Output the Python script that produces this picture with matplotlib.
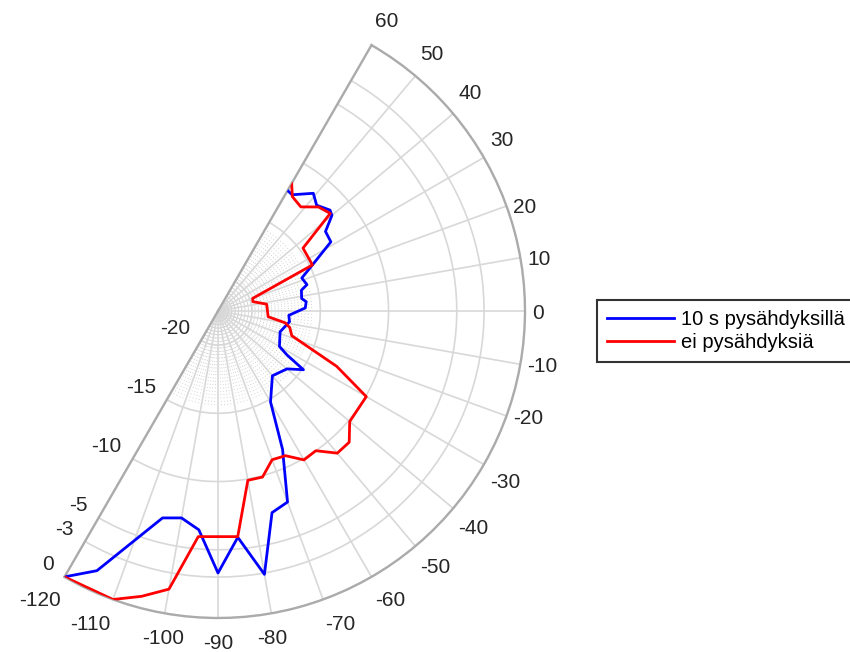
import numpy as np
import matplotlib
matplotlib.use("Agg")
import matplotlib.pyplot as plt
from matplotlib.transforms import offset_copy

plt.rcParams['font.family'] = ['Liberation Sans', 'DejaVu Sans']

# signal level (dB) against bearing (deg), with 10 s stops
theta_stops = [60, 57.5, 51, 47, 42, 40, 36.5, 31.5, 26, 21.5, 16.5, 14, 8.5, 6, 2,
               -3.5, -8.5, -18.5, -30, -32.5, -34.5, -40, -50, -60, -65, -70, -75,
               -80, -85, -90, -95, -100, -105, -115, -120]
level_stops = [-12.3, -12.4, -11.4, -11.9, -11.45, -11.6, -12.7, -12.8, -14.8, -15.9,
               -15.7, -16.2, -16.3, -16.0, -16.1, -17.3, -17.2, -17.7, -17.3, -16.5,
               -14.9, -15.9, -16.3, -14.8, -11.3, -7.6, -7.2, -2.9, -5.85, -3.3,
               -6.4, -7.1, -6.8, -1.5, 0]

# same route without stops
theta_nostop = [60, 57, 51.5, 46, 41, 36.5, 26, 20, 15, 8, -6.5, -10, -13, -18.5, -25,
                -30, -40, -45, -50, -55, -60, -65, -70, -75, -80, -85, -95, -100,
                -105, -110, -120]
level_nostop = [-11.7, -12.5, -12.75, -11.9, -11.6, -14.75, -14.8, -19.8, -19.85, -18.9,
                -18.8, -17.5, -17.1, -16.8, -12.9, -9.95, -9.9, -8.9, -8.9, -10.0,
                -9.9, -10.8, -10.9, -9.9, -9.9, -5.9, -5.9, -1.8, -0.85, 0, 0]

labels = ['10 s pysähdyksillä', 'ei pysähdyksiä']
r_ticks = [-20, -15, -10, -5, -3, 0]
theta_ticks = [60, 50, 40, 30, 20, 10, 0, -10, -20, -30, -40, -50, -60, -70, -80,
               -90, -100, -110, -120]
r_min, r_max = -22.5, 0

W, H = 850, 652
fig = plt.figure(figsize=(W / 100, H / 100), dpi=100)
S = 573
ax = fig.add_axes([8 / W, 34 / H, S / W, S / H], projection='polar')
ax.set_thetamin(-120)
ax.set_thetamax(60)
ax.set_rlim(r_min, r_max)

# put the pole at (218, 311) px from top-left with a 307 px outer radius
fig.canvas.draw()
cx, cy = ax.transData.transform((0, r_min))
ex, _ = ax.transData.transform((0, r_max))
x0, y0 = 8, 34
a, b = (cx - x0) / S, (cy - y0) / S
S_new = S * 307 / (ex - cx)
x0, y0 = 218 - a * S_new, (H - 311) - b * S_new
ax.set_position([x0 / W, y0 / H, S_new / W, S_new / H])

ax.set_xticks(np.deg2rad(theta_ticks))
ax.set_xticklabels([])
ax.set_yticks(r_ticks)
ax.set_yticklabels([])
ax.tick_params(length=0)
ax.grid(True, color='#d8d8d8', lw=1.2)
for sp in ax.spines.values():
    sp.set_color('#ababab')
    sp.set_linewidth(1.7)

# dotted minor spokes, they pile up near the centre
for deg in range(-118, 60, 2):
    if deg % 10 == 0:
        continue
    ang = np.deg2rad(deg)
    ax.plot([ang, ang], [r_min, -15.5], ls=(0, (1, 3)), lw=0.6, color='#c4c4c4', zorder=1)

ax.plot(np.deg2rad(theta_stops), level_stops, color='blue', lw=2.0, label=labels[0], zorder=3)
ax.plot(np.deg2rad(theta_nostop), level_nostop, color='red', lw=2.0, label=labels[1], zorder=3)

# theta labels outside the arc
for t in theta_ticks:
    ang = np.deg2rad(t)
    if t >= 25:
        ha, va = 'left', 'bottom'
    elif t > -25:
        ha, va = 'left', 'center'
    elif t > -75:
        ha, va = 'left', 'top'
    elif t > -105:
        ha, va = 'center', 'top'
    else:
        ha, va = 'right', 'top'
    dx = 7 * np.cos(ang)
    dy = 16 * np.sin(ang) if va != 'center' else -2
    tr = offset_copy(ax.transData, fig=fig, x=dx, y=dy, units='dots')
    ax.text(ang, r_max, str(t), transform=tr, ha=ha, va=va, fontsize=15,
            color='#262626', clip_on=False)

# r labels along the -120 edge
tr = offset_copy(ax.transData, fig=fig, x=-11, y=12, units='dots')
for v in r_ticks:
    ax.text(np.deg2rad(-120), v, str(v), transform=tr, ha='right', va='center',
            fontsize=15, color='#262626', clip_on=False)

leg = fig.legend(loc='upper left', bbox_to_anchor=(597 / W, 1 - 300 / H),
                 fontsize=14.5, frameon=True, fancybox=False, edgecolor='black',
                 borderpad=0.5, handlelength=3.3, handletextpad=0.35,
                 labelspacing=0.2, borderaxespad=0)
leg.get_frame().set_linewidth(1.5)

fig.savefig('out.png', dpi=100)
